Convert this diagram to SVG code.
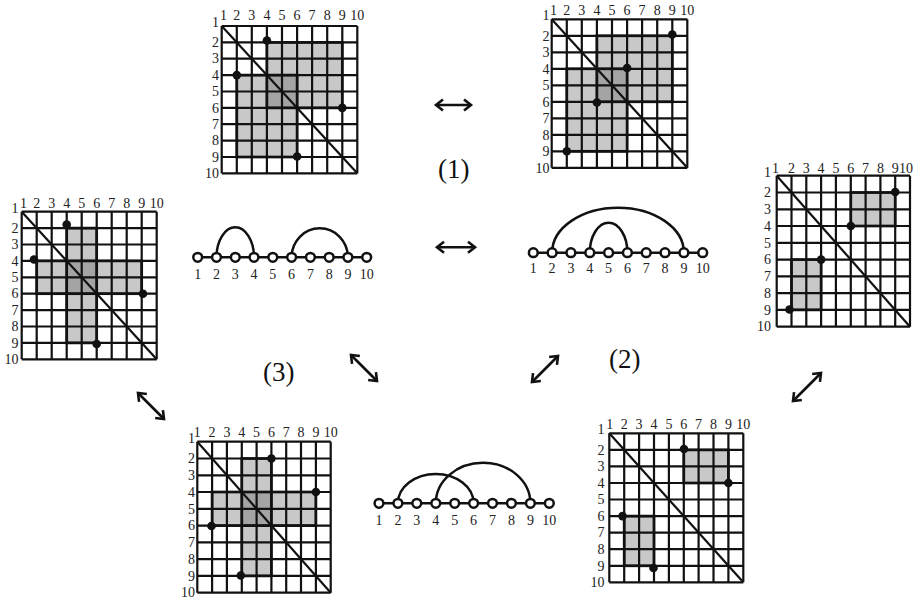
<svg xmlns="http://www.w3.org/2000/svg" width="913" height="602" viewBox="0 0 913 602">
<style>
.lt{fill:#c8c8c8}
.dk{fill:#a4a4a4}
.g{fill:none;stroke:#111;stroke-width:2.2}
.ol{fill:none;stroke:#111;stroke-width:2.7}
.dg{fill:none;stroke:#111;stroke-width:2.2}
.dot{fill:#111}
.lb{font-family:"Liberation Serif","Times New Roman",serif;font-size:14px;fill:#222}
.cl{text-anchor:middle}
.rl{text-anchor:end}
.nd{fill:#fff;stroke:#111;stroke-width:2.5}
.ch{fill:none;stroke:#111;stroke-width:2.4}
.arc{fill:none;stroke:#111;stroke-width:2.5}
.big{font-family:"Liberation Serif","Times New Roman",serif;font-size:27px;fill:#111}
.ar{fill:none;stroke:#111;stroke-width:2.6;marker-start:url(#ah);marker-end:url(#ah)}
</style>
<defs>
<marker id="ah" viewBox="0 0 12 14" refX="10.5" refY="7" markerWidth="12" markerHeight="14" markerUnits="userSpaceOnUse" orient="auto-start-reverse" overflow="visible">
<path d="M3.5,1.5 L10.5,7 L3.5,12.5" fill="none" stroke="#111" stroke-width="2.6"/>
</marker>
</defs>
<rect width="913" height="602" fill="#fff"/>

<!-- Matrix A -->
<g id="matrixA">
<rect class="lt" x="266.9" y="42.4" width="75.4" height="65.5"/>
<rect class="lt" x="236.8" y="75.1" width="60.3" height="81.9"/>
<rect class="dk" x="266.9" y="75.1" width="30.2" height="32.8"/>
<path class="g" d="M221.7,26V173.3M236.8,26V173.3M251.8,26V173.3M266.9,26V173.3M282,26V173.3M297.1,26V173.3M312.1,26V173.3M327.2,26V173.3M342.3,26V173.3M357.3,26V173.3M221.7,26H357.3M221.7,42.4H357.3M221.7,58.7H357.3M221.7,75.1H357.3M221.7,91.5H357.3M221.7,107.9H357.3M221.7,124.2H357.3M221.7,140.6H357.3M221.7,157H357.3M221.7,173.3H357.3"/>
<rect class="ol" x="266.9" y="42.4" width="75.4" height="65.5"/>
<rect class="ol" x="236.8" y="75.1" width="60.3" height="81.9"/>
<line class="dg" x1="221.7" y1="26" x2="357.3" y2="173.3"/>
<circle class="dot" cx="266.9" cy="40.5" r="4.3"/><circle class="dot" cx="236.8" cy="75.1" r="4.3"/><circle class="dot" cx="342.3" cy="107.9" r="4.3"/><circle class="dot" cx="297.1" cy="156.5" r="4.3"/>
<text class="lb cl" x="223.5" y="20">1</text><text class="lb cl" x="236.8" y="20">2</text><text class="lb cl" x="251.8" y="20">3</text><text class="lb cl" x="266.9" y="20">4</text><text class="lb cl" x="282" y="20">5</text><text class="lb cl" x="297.1" y="20">6</text><text class="lb cl" x="312.1" y="20">7</text><text class="lb cl" x="327.2" y="20">8</text><text class="lb cl" x="342.3" y="20">9</text><text class="lb cl" x="357.3" y="20">10</text>
<text class="lb rl" x="219" y="27">1</text><text class="lb rl" x="219" y="47">2</text><text class="lb rl" x="219" y="63.4">3</text><text class="lb rl" x="219" y="79.8">4</text><text class="lb rl" x="219" y="96.2">5</text><text class="lb rl" x="219" y="112.6">6</text><text class="lb rl" x="219" y="128.9">7</text><text class="lb rl" x="219" y="145.3">8</text><text class="lb rl" x="219" y="161.7">9</text><text class="lb rl" x="219" y="178">10</text>
</g>

<!-- Matrix B -->
<g id="matrixB">
<rect class="lt" x="596.9" y="35.8" width="75.4" height="66"/>
<rect class="lt" x="566.8" y="68.8" width="60.3" height="82.5"/>
<rect class="dk" x="596.9" y="68.8" width="30.2" height="33"/>
<path class="g" d="M551.7,19.3V167.8M566.8,19.3V167.8M581.8,19.3V167.8M596.9,19.3V167.8M612,19.3V167.8M627.1,19.3V167.8M642.1,19.3V167.8M657.2,19.3V167.8M672.3,19.3V167.8M687.3,19.3V167.8M551.7,19.3H687.3M551.7,35.8H687.3M551.7,52.3H687.3M551.7,68.8H687.3M551.7,85.3H687.3M551.7,101.8H687.3M551.7,118.3H687.3M551.7,134.8H687.3M551.7,151.3H687.3M551.7,167.8H687.3"/>
<rect class="ol" x="596.9" y="35.8" width="75.4" height="66"/>
<rect class="ol" x="566.8" y="68.8" width="60.3" height="82.5"/>
<line class="dg" x1="551.7" y1="19.3" x2="687.3" y2="167.8"/>
<circle class="dot" cx="672.3" cy="34.5" r="4.3"/><circle class="dot" cx="627.1" cy="68" r="4.3"/><circle class="dot" cx="596.9" cy="102.5" r="4.3"/><circle class="dot" cx="566.8" cy="151.3" r="4.3"/>
<text class="lb cl" x="553.5" y="15">1</text><text class="lb cl" x="566.8" y="15">2</text><text class="lb cl" x="581.8" y="15">3</text><text class="lb cl" x="596.9" y="15">4</text><text class="lb cl" x="612" y="15">5</text><text class="lb cl" x="627.1" y="15">6</text><text class="lb cl" x="642.1" y="15">7</text><text class="lb cl" x="657.2" y="15">8</text><text class="lb cl" x="672.3" y="15">9</text><text class="lb cl" x="687.3" y="15">10</text>
<text class="lb rl" x="549.5" y="20.3">1</text><text class="lb rl" x="549.5" y="40.5">2</text><text class="lb rl" x="549.5" y="57">3</text><text class="lb rl" x="549.5" y="73.5">4</text><text class="lb rl" x="549.5" y="90">5</text><text class="lb rl" x="549.5" y="106.5">6</text><text class="lb rl" x="549.5" y="123">7</text><text class="lb rl" x="549.5" y="139.5">8</text><text class="lb rl" x="549.5" y="156">9</text><text class="lb rl" x="549.5" y="172.5">10</text>
</g>

<!-- Matrix C -->
<g id="matrixC">
<rect class="lt" x="66.7" y="228.1" width="30" height="114.8"/>
<rect class="lt" x="36.7" y="260.9" width="105" height="32.8"/>
<rect class="dk" x="66.7" y="260.9" width="30" height="32.8"/>
<path class="g" d="M21.7,211.7V359.3M36.7,211.7V359.3M51.7,211.7V359.3M66.7,211.7V359.3M81.7,211.7V359.3M96.7,211.7V359.3M111.7,211.7V359.3M126.7,211.7V359.3M141.7,211.7V359.3M156.7,211.7V359.3M21.7,211.7H156.7M21.7,228.1H156.7M21.7,244.5H156.7M21.7,260.9H156.7M21.7,277.3H156.7M21.7,293.7H156.7M21.7,310.1H156.7M21.7,326.5H156.7M21.7,342.9H156.7M21.7,359.3H156.7"/>
<rect class="ol" x="66.7" y="228.1" width="30" height="114.8"/>
<rect class="ol" x="36.7" y="260.9" width="105" height="32.8"/>
<line class="dg" x1="21.7" y1="211.7" x2="156.7" y2="359.3"/>
<circle class="dot" cx="66.7" cy="224.5" r="4.3"/><circle class="dot" cx="34" cy="259.5" r="4.3"/><circle class="dot" cx="143" cy="293.7" r="4.3"/><circle class="dot" cx="96.7" cy="344" r="4.3"/>
<text class="lb cl" x="23.5" y="207.7">1</text><text class="lb cl" x="36.7" y="207.7">2</text><text class="lb cl" x="51.7" y="207.7">3</text><text class="lb cl" x="66.7" y="207.7">4</text><text class="lb cl" x="81.7" y="207.7">5</text><text class="lb cl" x="96.7" y="207.7">6</text><text class="lb cl" x="111.7" y="207.7">7</text><text class="lb cl" x="126.7" y="207.7">8</text><text class="lb cl" x="141.7" y="207.7">9</text><text class="lb cl" x="156.7" y="207.7">10</text>
<text class="lb rl" x="18.5" y="212.7">1</text><text class="lb rl" x="18.5" y="232.8">2</text><text class="lb rl" x="18.5" y="249.2">3</text><text class="lb rl" x="18.5" y="265.6">4</text><text class="lb rl" x="18.5" y="282">5</text><text class="lb rl" x="18.5" y="298.4">6</text><text class="lb rl" x="18.5" y="314.8">7</text><text class="lb rl" x="18.5" y="331.2">8</text><text class="lb rl" x="18.5" y="347.6">9</text><text class="lb rl" x="18.5" y="364">10</text>
</g>

<!-- Matrix D -->
<g id="matrixD">
<rect class="lt" x="850.8" y="192.5" width="44.4" height="33.5"/>
<rect class="lt" x="791.5" y="259.6" width="29.6" height="50.3"/>
<path class="g" d="M776.7,175.7V326.7M791.5,175.7V326.7M806.3,175.7V326.7M821.1,175.7V326.7M835.9,175.7V326.7M850.8,175.7V326.7M865.6,175.7V326.7M880.4,175.7V326.7M895.2,175.7V326.7M910,175.7V326.7M776.7,175.7H910M776.7,192.5H910M776.7,209.3H910M776.7,226H910M776.7,242.8H910M776.7,259.6H910M776.7,276.4H910M776.7,293.2H910M776.7,309.9H910M776.7,326.7H910"/>
<rect class="ol" x="850.8" y="192.5" width="44.4" height="33.5"/>
<rect class="ol" x="791.5" y="259.6" width="29.6" height="50.3"/>
<line class="dg" x1="776.7" y1="175.7" x2="910" y2="326.7"/>
<circle class="dot" cx="895.2" cy="192" r="4.3"/><circle class="dot" cx="850.8" cy="226" r="4.3"/><circle class="dot" cx="821.1" cy="259.6" r="4.3"/><circle class="dot" cx="789.5" cy="309.5" r="4.3"/>
<text class="lb cl" x="775.5" y="173.3">1</text><text class="lb cl" x="791.5" y="173.3">2</text><text class="lb cl" x="806.3" y="173.3">3</text><text class="lb cl" x="821.1" y="173.3">4</text><text class="lb cl" x="835.9" y="173.3">5</text><text class="lb cl" x="850.8" y="173.3">6</text><text class="lb cl" x="865.6" y="173.3">7</text><text class="lb cl" x="880.4" y="173.3">8</text><text class="lb cl" x="895.2" y="173.3">9</text><text class="lb rl" x="913" y="173.3">10</text>
<text class="lb rl" x="771" y="176.7">1</text><text class="lb rl" x="771" y="197.2">2</text><text class="lb rl" x="771" y="214">3</text><text class="lb rl" x="771" y="230.7">4</text><text class="lb rl" x="771" y="247.5">5</text><text class="lb rl" x="771" y="264.3">6</text><text class="lb rl" x="771" y="281.1">7</text><text class="lb rl" x="771" y="297.9">8</text><text class="lb rl" x="771" y="314.6">9</text><text class="lb rl" x="771" y="331.4">10</text>
</g>

<!-- Matrix E -->
<g id="matrixE">
<rect class="lt" x="241.8" y="458.5" width="29.6" height="117.4"/>
<rect class="lt" x="212.1" y="492" width="103.8" height="33.6"/>
<rect class="dk" x="241.8" y="492" width="29.6" height="33.6"/>
<path class="g" d="M197.3,441.7V592.7M212.1,441.7V592.7M226.9,441.7V592.7M241.8,441.7V592.7M256.6,441.7V592.7M271.4,441.7V592.7M286.2,441.7V592.7M301,441.7V592.7M315.9,441.7V592.7M330.7,441.7V592.7M197.3,441.7H330.7M197.3,458.5H330.7M197.3,475.3H330.7M197.3,492H330.7M197.3,508.8H330.7M197.3,525.6H330.7M197.3,542.4H330.7M197.3,559.2H330.7M197.3,575.9H330.7M197.3,592.7H330.7"/>
<rect class="ol" x="241.8" y="458.5" width="29.6" height="117.4"/>
<rect class="ol" x="212.1" y="492" width="103.8" height="33.6"/>
<line class="dg" x1="197.3" y1="441.7" x2="330.7" y2="592.7"/>
<circle class="dot" cx="271.4" cy="458.5" r="4.3"/><circle class="dot" cx="315.9" cy="492" r="4.3"/><circle class="dot" cx="211.5" cy="526" r="4.3"/><circle class="dot" cx="240.8" cy="575.5" r="4.3"/>
<text class="lb cl" x="197.3" y="437.3">1</text><text class="lb cl" x="212.1" y="437.3">2</text><text class="lb cl" x="226.9" y="437.3">3</text><text class="lb cl" x="241.8" y="437.3">4</text><text class="lb cl" x="256.6" y="437.3">5</text><text class="lb cl" x="271.4" y="437.3">6</text><text class="lb cl" x="286.2" y="437.3">7</text><text class="lb cl" x="301" y="437.3">8</text><text class="lb cl" x="315.9" y="437.3">9</text><text class="lb cl" x="330.7" y="437.3">10</text>
<text class="lb rl" x="195" y="442.7">1</text><text class="lb rl" x="195" y="463.2">2</text><text class="lb rl" x="195" y="480">3</text><text class="lb rl" x="195" y="496.7">4</text><text class="lb rl" x="195" y="513.5">5</text><text class="lb rl" x="195" y="530.3">6</text><text class="lb rl" x="195" y="547.1">7</text><text class="lb rl" x="195" y="563.9">8</text><text class="lb rl" x="195" y="580.6">9</text><text class="lb rl" x="195" y="597.4">10</text>
</g>

<!-- Matrix F -->
<g id="matrixF">
<rect class="lt" x="683.8" y="449.9" width="44.6" height="33.1"/>
<rect class="lt" x="624.2" y="516.1" width="29.8" height="49.7"/>
<path class="g" d="M609.3,433.3V582.3M624.2,433.3V582.3M639.1,433.3V582.3M654,433.3V582.3M668.9,433.3V582.3M683.8,433.3V582.3M698.6,433.3V582.3M713.5,433.3V582.3M728.4,433.3V582.3M743.3,433.3V582.3M609.3,433.3H743.3M609.3,449.9H743.3M609.3,466.4H743.3M609.3,483H743.3M609.3,499.5H743.3M609.3,516.1H743.3M609.3,532.7H743.3M609.3,549.2H743.3M609.3,565.8H743.3M609.3,582.3H743.3"/>
<rect class="ol" x="683.8" y="449.9" width="44.6" height="33.1"/>
<rect class="ol" x="624.2" y="516.1" width="29.8" height="49.7"/>
<line class="dg" x1="609.3" y1="433.3" x2="743.3" y2="582.3"/>
<circle class="dot" cx="684" cy="449" r="4.3"/><circle class="dot" cx="728.4" cy="483" r="4.3"/><circle class="dot" cx="622.5" cy="516.1" r="4.3"/><circle class="dot" cx="653.5" cy="568" r="4.3"/>
<text class="lb cl" x="609.7" y="429">1</text><text class="lb cl" x="624.2" y="429">2</text><text class="lb cl" x="639.1" y="429">3</text><text class="lb cl" x="654" y="429">4</text><text class="lb cl" x="668.9" y="429">5</text><text class="lb cl" x="683.8" y="429">6</text><text class="lb cl" x="698.6" y="429">7</text><text class="lb cl" x="713.5" y="429">8</text><text class="lb cl" x="728.4" y="429">9</text><text class="lb cl" x="743.3" y="429">10</text>
<text class="lb rl" x="604.5" y="434.3">1</text><text class="lb rl" x="604.5" y="454.6">2</text><text class="lb rl" x="604.5" y="471.1">3</text><text class="lb rl" x="604.5" y="487.7">4</text><text class="lb rl" x="604.5" y="504.2">5</text><text class="lb rl" x="604.5" y="520.8">6</text><text class="lb rl" x="604.5" y="537.4">7</text><text class="lb rl" x="604.5" y="553.9">8</text><text class="lb rl" x="604.5" y="570.5">9</text><text class="lb rl" x="604.5" y="587">10</text>
</g>

<!-- Arc diagram 1 -->
<g id="arcs1">
<path class="arc" d="M216.5,257.3 A18.75,30 0 0 1 254,257.3 M291.6,257.3 A28.15,29 0 0 1 347.9,257.3"/>
<line class="ch" x1="197.7" y1="257.3" x2="366.7" y2="257.3"/>
<circle class="nd" cx="197.7" cy="257.3" r="4.4"/><circle class="nd" cx="216.5" cy="257.3" r="4.4"/><circle class="nd" cx="235.3" cy="257.3" r="4.4"/><circle class="nd" cx="254" cy="257.3" r="4.4"/><circle class="nd" cx="272.8" cy="257.3" r="4.4"/><circle class="nd" cx="291.6" cy="257.3" r="4.4"/><circle class="nd" cx="310.4" cy="257.3" r="4.4"/><circle class="nd" cx="329.2" cy="257.3" r="4.4"/><circle class="nd" cx="347.9" cy="257.3" r="4.4"/><circle class="nd" cx="366.7" cy="257.3" r="4.4"/>
<text class="lb cl" x="197.7" y="279">1</text><text class="lb cl" x="216.5" y="279">2</text><text class="lb cl" x="235.3" y="279">3</text><text class="lb cl" x="254" y="279">4</text><text class="lb cl" x="272.8" y="279">5</text><text class="lb cl" x="291.6" y="279">6</text><text class="lb cl" x="310.4" y="279">7</text><text class="lb cl" x="329.2" y="279">8</text><text class="lb cl" x="347.9" y="279">9</text><text class="lb cl" x="366.7" y="279">10</text>
</g>

<!-- Arc diagram 2 -->
<g id="arcs2">
<path class="arc" d="M552.1,252.7 A65.9,45 0 0 1 683.9,252.7 M589.8,252.7 A18.8,30 0 0 1 627.4,252.7"/>
<line class="ch" x1="533.3" y1="252.7" x2="702.7" y2="252.7"/>
<circle class="nd" cx="533.3" cy="252.7" r="4.4"/><circle class="nd" cx="552.1" cy="252.7" r="4.4"/><circle class="nd" cx="570.9" cy="252.7" r="4.4"/><circle class="nd" cx="589.8" cy="252.7" r="4.4"/><circle class="nd" cx="608.6" cy="252.7" r="4.4"/><circle class="nd" cx="627.4" cy="252.7" r="4.4"/><circle class="nd" cx="646.2" cy="252.7" r="4.4"/><circle class="nd" cx="665" cy="252.7" r="4.4"/><circle class="nd" cx="683.9" cy="252.7" r="4.4"/><circle class="nd" cx="702.7" cy="252.7" r="4.4"/>
<text class="lb cl" x="533.3" y="273.3">1</text><text class="lb cl" x="552.1" y="273.3">2</text><text class="lb cl" x="570.9" y="273.3">3</text><text class="lb cl" x="589.8" y="273.3">4</text><text class="lb cl" x="608.6" y="273.3">5</text><text class="lb cl" x="627.4" y="273.3">6</text><text class="lb cl" x="646.2" y="273.3">7</text><text class="lb cl" x="665" y="273.3">8</text><text class="lb cl" x="683.9" y="273.3">9</text><text class="lb cl" x="702.7" y="273.3">10</text>
</g>

<!-- Arc diagram 3 -->
<g id="arcs3">
<path class="arc" d="M397.9,503.3 A37.85,29.3 0 0 1 473.6,503.3 M435.8,503.3 A47.3,40.6 0 0 1 530.4,503.3"/>
<line class="ch" x1="379" y1="503.3" x2="549.3" y2="503.3"/>
<circle class="nd" cx="379" cy="503.3" r="4.4"/><circle class="nd" cx="397.9" cy="503.3" r="4.4"/><circle class="nd" cx="416.8" cy="503.3" r="4.4"/><circle class="nd" cx="435.8" cy="503.3" r="4.4"/><circle class="nd" cx="454.7" cy="503.3" r="4.4"/><circle class="nd" cx="473.6" cy="503.3" r="4.4"/><circle class="nd" cx="492.5" cy="503.3" r="4.4"/><circle class="nd" cx="511.4" cy="503.3" r="4.4"/><circle class="nd" cx="530.4" cy="503.3" r="4.4"/><circle class="nd" cx="549.3" cy="503.3" r="4.4"/>
<text class="lb cl" x="379" y="525">1</text><text class="lb cl" x="397.9" y="525">2</text><text class="lb cl" x="416.8" y="525">3</text><text class="lb cl" x="435.8" y="525">4</text><text class="lb cl" x="454.7" y="525">5</text><text class="lb cl" x="473.6" y="525">6</text><text class="lb cl" x="492.5" y="525">7</text><text class="lb cl" x="511.4" y="525">8</text><text class="lb cl" x="530.4" y="525">9</text><text class="lb cl" x="549.3" y="525">10</text>
</g>

<!-- Labels -->
<g id="labels">
<text class="big" x="438" y="178.3">(1)</text>
<text class="big" x="609" y="368">(2)</text>
<text class="big" x="263" y="380.7">(3)</text>
</g>

<!-- Connectors -->
<g id="connectors">
<line class="ar" x1="436" y1="105" x2="471" y2="105"/>
<line class="ar" x1="437" y1="247.3" x2="475" y2="247.3"/>
<line class="ar" x1="351" y1="355" x2="377" y2="381"/>
<line class="ar" x1="138" y1="393" x2="164" y2="419"/>
<line class="ar" x1="532" y1="382" x2="558" y2="356"/>
<line class="ar" x1="793" y1="401" x2="821" y2="373"/>
</g>
</svg>
